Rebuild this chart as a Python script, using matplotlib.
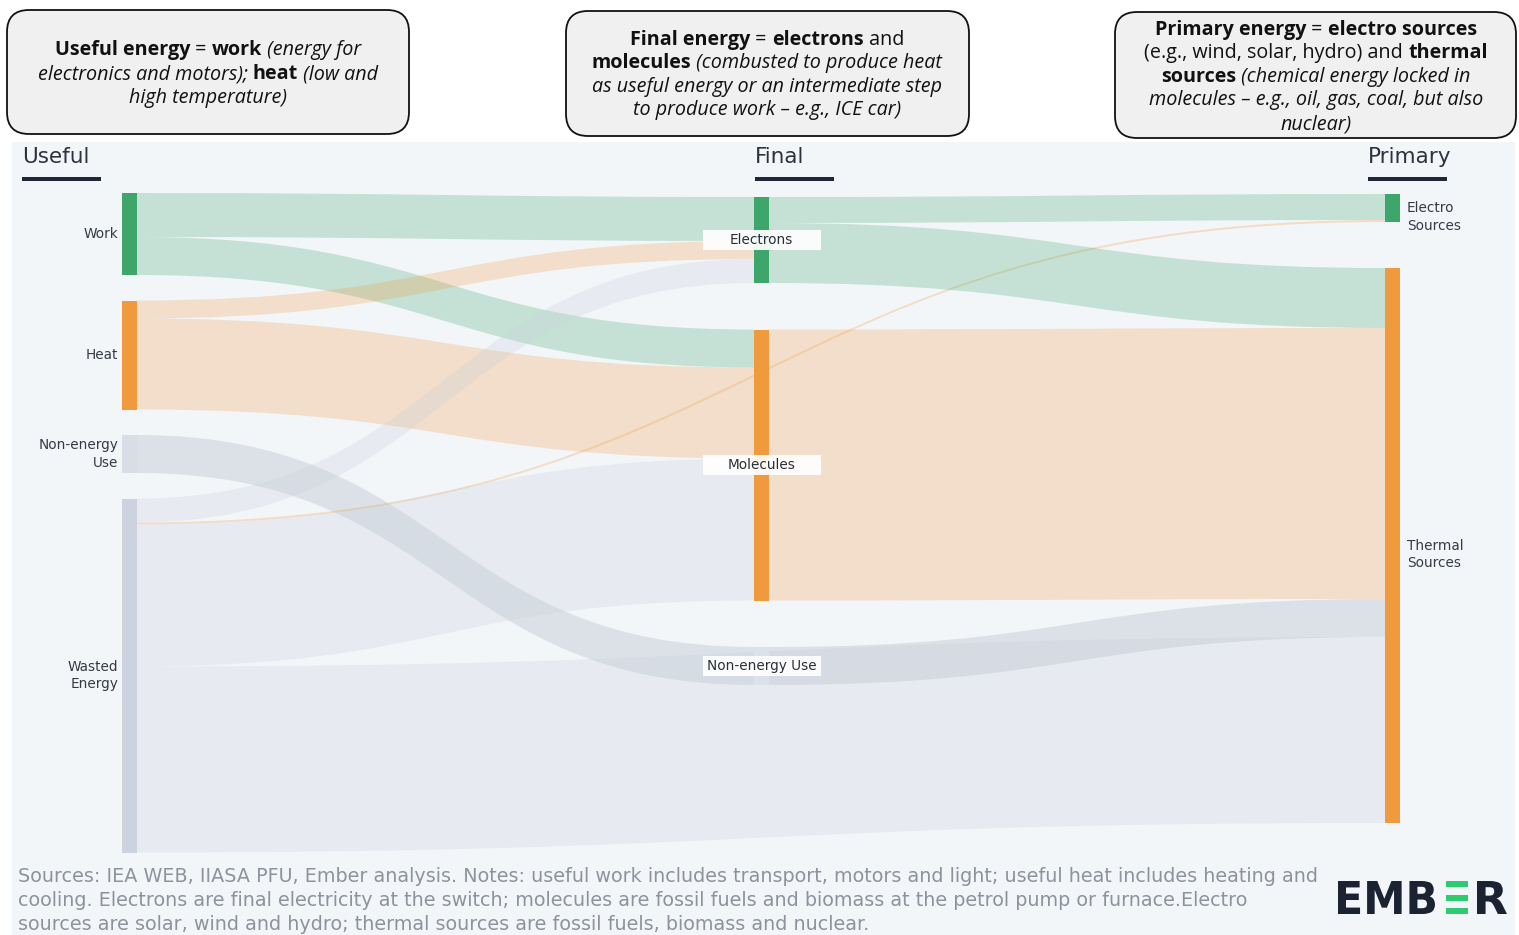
import matplotlib
matplotlib.use('Agg')
import matplotlib.pyplot as plt
from matplotlib.patches import PathPatch, Rectangle, FancyBboxPatch
from matplotlib.path import Path
from matplotlib.textpath import TextPath
from matplotlib.font_manager import FontProperties
from matplotlib.transforms import Affine2D

# ---- data (EJ) ----
NODES = ['Work', 'Heat', 'Non-energy Use', 'Wasted Energy',
         'Electrons', 'Molecules', 'Non-energy Use (final)',
         'Electro Sources', 'Thermal Sources']
NODE_LABELS = ['Work', 'Heat', 'Non-energy\nUse', 'Wasted\nEnergy',
               'Electrons', 'Molecules', 'Non-energy Use',
               'Electro\nSources', 'Thermal\nSources']
NODE_COLUMN = [0, 0, 0, 0, 1, 1, 1, 2, 2]
COLUMN_TITLES = ['Useful', 'Final', 'Primary']

LINK_SOURCE = ['Work', 'Work', 'Heat', 'Heat', 'Non-energy Use',
               'Wasted Energy', 'Wasted Energy', 'Wasted Energy', 'Wasted Energy',
               'Electrons', 'Electrons', 'Molecules', 'Non-energy Use (final)']
LINK_TARGET = ['Electrons', 'Molecules', 'Electrons', 'Molecules', 'Non-energy Use (final)',
               'Electrons', 'Electro Sources', 'Molecules', 'Thermal Sources',
               'Electro Sources', 'Thermal Sources', 'Thermal Sources', 'Thermal Sources']
LINK_VALUE = [44, 38, 18, 91, 38, 24, 2, 142, 186, 26, 60, 271, 38]

BOX_LINES = [
    [[('Useful energy', 'bold', 'normal'), (' = ', 'normal', 'normal'), ('work', 'bold', 'normal'),
      (' (energy for', 'normal', 'italic')],
     [('electronics and motors); ', 'normal', 'italic'), ('heat', 'bold', 'normal'),
      (' (low and', 'normal', 'italic')],
     [('high temperature)', 'normal', 'italic')]],
    [[('Final energy', 'bold', 'normal'), (' = ', 'normal', 'normal'), ('electrons', 'bold', 'normal'),
      (' and', 'normal', 'normal')],
     [('molecules', 'bold', 'normal'), (' (combusted to produce heat', 'normal', 'italic')],
     [('as useful energy or an intermediate step', 'normal', 'italic')],
     [('to produce work \u2013 e.g., ICE car)', 'normal', 'italic')]],
    [[('Primary energy', 'bold', 'normal'), (' = ', 'normal', 'normal'), ('electro sources', 'bold', 'normal')],
     [('(e.g., wind, solar, hydro) and ', 'normal', 'normal'), ('thermal', 'bold', 'normal')],
     [('sources', 'bold', 'normal'), (' (chemical energy locked in', 'normal', 'italic')],
     [('molecules \u2013 e.g., oil, gas, coal, but also', 'normal', 'italic')],
     [('nuclear)', 'normal', 'italic')]],
]

FOOTER = [
    'Sources: IEA WEB, IIASA PFU, Ember analysis. Notes: useful work includes transport, motors and light; useful heat includes heating and',
    'cooling. Electrons are final electricity at the switch; molecules are fossil fuels and biomass at the petrol pump or furnace.Electro',
    'sources are solar, wind and hydro; thermal sources are fossil fuels, biomass and nuclear.',
]

# ---- style / layout ----
W, H = 1519, 935
GREEN = '#3ea66a'
ORANGE = '#f09a3e'
NODE_COLORS = {'Work': GREEN, 'Heat': ORANGE, 'Non-energy Use': '#d9dde5',
               'Wasted Energy': '#cdd3de', 'Electrons': GREEN, 'Molecules': ORANGE,
               'Non-energy Use (final)': '#dde1e9', 'Electro Sources': GREEN,
               'Thermal Sources': ORANGE}
LINK_STYLE = {'Work': (GREEN, 0.25), 'Heat': (ORANGE, 0.25), 'Non-energy Use': ('#b8bfcd', 0.38),
              'Wasted Energy': ('#c9d0dc', 0.27), 'Electrons': (GREEN, 0.25),
              'Molecules': (ORANGE, 0.25), 'Non-energy Use (final)': ('#b8bfcd', 0.38)}
LINK_OVERRIDE = {('Wasted Energy', 'Electro Sources'): (ORANGE, 0.28)}
COL_X = [122, 754, 1385]
COL_TOP = [193, 197, 194]
COL_PAD = [25.5, 46.5, 46]
NODE_W = 15
SCALE = 1.0  # px per EJ
LABEL_FONT = 'DejaVu Sans'
BOX_FONT = 'Open Sans'

fig = plt.figure(figsize=(W / 100, H / 100), dpi=100)
ax = fig.add_axes([0, 0, 1, 1])
ax.set_xlim(0, W)
ax.set_ylim(H, 0)
ax.axis('off')
renderer = fig.canvas.get_renderer()

# panel background
ax.add_patch(Rectangle((12, 142), 1503, H - 142, facecolor='#f3f6f9', edgecolor='none', zorder=0))

# ---- sankey layout ----
n_in = {n: 0 for n in NODES}
n_out = {n: 0 for n in NODES}
for s, t, v in zip(LINK_SOURCE, LINK_TARGET, LINK_VALUE):
    n_out[s] += v
    n_in[t] += v
node_val = {n: max(n_in[n], n_out[n]) for n in NODES}

node_y0 = {}
for c in range(3):
    y = COL_TOP[c]
    for n, col in zip(NODES, NODE_COLUMN):
        if col == c:
            node_y0[n] = y
            y += node_val[n] * SCALE + COL_PAD[c]
col_of = dict(zip(NODES, NODE_COLUMN))

# outgoing stacking in data order
src_pos = {}
cursor = dict(node_y0)
for i, (s, v) in enumerate(zip(LINK_SOURCE, LINK_VALUE)):
    src_pos[i] = (cursor[s], cursor[s] + v * SCALE)
    cursor[s] += v * SCALE
# incoming stacking sorted by source-end position
tgt_pos = {}
for n in NODES:
    idx = [i for i, t in enumerate(LINK_TARGET) if t == n]
    idx.sort(key=lambda i: sum(src_pos[i]) / 2)
    y = node_y0[n]
    for i in idx:
        tgt_pos[i] = (y, y + LINK_VALUE[i] * SCALE)
        y += LINK_VALUE[i] * SCALE


def link_path(x0, a0, b0, x1, a1, b1):
    xm = (x0 + x1) / 2
    verts = [(x0, a0), (xm, a0), (xm, a1), (x1, a1), (x1, b1),
             (xm, b1), (xm, b0), (x0, b0), (x0, a0)]
    codes = [Path.MOVETO, Path.CURVE4, Path.CURVE4, Path.CURVE4, Path.LINETO,
             Path.CURVE4, Path.CURVE4, Path.CURVE4, Path.CLOSEPOLY]
    return Path(verts, codes)


for i, (s, t) in enumerate(zip(LINK_SOURCE, LINK_TARGET)):
    x0 = COL_X[col_of[s]] + NODE_W
    x1 = COL_X[col_of[t]]
    color, alpha = LINK_OVERRIDE.get((s, t), LINK_STYLE[s])
    p = link_path(x0, *src_pos[i], x1, *tgt_pos[i])
    ax.add_patch(PathPatch(p, facecolor=color, alpha=alpha, edgecolor='none', lw=0, zorder=2))

# nodes and labels
for n, lab, c in zip(NODES, NODE_LABELS, NODE_COLUMN):
    y0 = node_y0[n]
    h = node_val[n] * SCALE
    ax.add_patch(Rectangle((COL_X[c], y0), NODE_W, h, facecolor=NODE_COLORS[n],
                           edgecolor='none', zorder=3))
    yc = y0 + h / 2
    if c == 0:
        ax.text(COL_X[c] - 4, yc, lab, ha='right', va='center', fontsize=9.8,
                family=LABEL_FONT, color='#353a45', linespacing=1.35, zorder=5)
    elif c == 1:
        xc = COL_X[c] + NODE_W / 2
        ax.add_patch(Rectangle((xc - 59, yc - 10), 118, 20, facecolor='white',
                               edgecolor='none', alpha=0.92, zorder=4))
        ax.text(xc, yc, lab, ha='center', va='center', fontsize=9.8,
                family=LABEL_FONT, color='#2a2f38', zorder=5)
    else:
        nl = lab.count('\n')
        ax.text(COL_X[c] + NODE_W + 7, yc + nl * 9, lab, ha='left', va='center',
                fontsize=9.8, family=LABEL_FONT, color='#353a45', linespacing=1.35, zorder=5)

# column headers
for c, title in enumerate(COLUMN_TITLES):
    hx = [22, 755, 1368][c]
    ax.text(hx, 157, title, ha='left', va='center', fontsize=15.5, family=LABEL_FONT,
            color='#2c323e', zorder=5)
    ax.add_patch(Rectangle((hx, 177), 79, 4, facecolor='#1e2739', edgecolor='none', zorder=5))


# ---- top explanation boxes ----
def seg_width(s, **kw):
    t1 = ax.text(0, 0, '|' + s + '|', **kw)
    t2 = ax.text(0, 0, '||', **kw)
    w = t1.get_window_extent(renderer).width - t2.get_window_extent(renderer).width
    t1.remove()
    t2.remove()
    return w


def rich_line(cx, yc, segs, fs):
    widths = [seg_width(s, fontsize=fs, family=BOX_FONT, fontweight=w, fontstyle=st)
              for s, w, st in segs]
    x = cx - sum(widths) / 2
    yb = yc + 0.36 * fs * 100 / 72
    for (s, w, st), wd in zip(segs, widths):
        ax.text(x, yb, s, ha='left', va='baseline', fontsize=fs, family=BOX_FONT,
                fontweight=w, fontstyle=st, color='#111111', zorder=7)
        x += wd


boxes = [(7, 10, 402, 124, 208, [48, 72, 96]),
         (566, 11, 403, 125, 767, [38, 61, 85, 108]),
         (1115, 12, 401, 126, 1316, [28, 51, 75, 98, 122])]
for (bx, by, bw, bh, cx, ys), lines in zip(boxes, BOX_LINES):
    ax.add_patch(FancyBboxPatch((bx, by), bw, bh, boxstyle='round,pad=0,rounding_size=22',
                                facecolor='#f0f0f0', edgecolor='#111111', lw=1.3, zorder=6))
    for yc, segs in zip(ys, lines):
        rich_line(cx, yc, segs, 14.2)

# ---- footer ----
fw = seg_width(FOOTER[0], fontsize=10, family=LABEL_FONT)
ffs = 10 * 1300 / fw
for k, line in enumerate(FOOTER):
    ax.text(18, 876 + 24 * k, line, ha='left', va='center', fontsize=ffs,
            family=LABEL_FONT, color='#8d929c', zorder=5)

# ---- EMBER logo ----
prop = FontProperties(family='DejaVu Sans', weight='bold')


def fit_text(s, x0, x1, y0, y1, color):
    tp = TextPath((0, 0), s, size=40, prop=prop)
    ext = tp.get_extents()
    sx = (x1 - x0) / ext.width
    sy = (y1 - y0) / ext.height
    tr = Affine2D().translate(-ext.x0, -ext.y0).scale(sx, -sy).translate(x0, y1)
    ax.add_patch(PathPatch(tr.transform_path(tp), facecolor=color, edgecolor='none', zorder=5))


fit_text('EMB', 1338, 1435, 881, 914, '#1b2232')
fit_text('R', 1477, 1507, 881, 914, '#1b2232')
for by in (881, 894.5, 908):
    ax.add_patch(Rectangle((1446, by), 22, 6, facecolor='#2ecc71', edgecolor='none', zorder=5))

fig.savefig('out.png', dpi=100, facecolor='white')
